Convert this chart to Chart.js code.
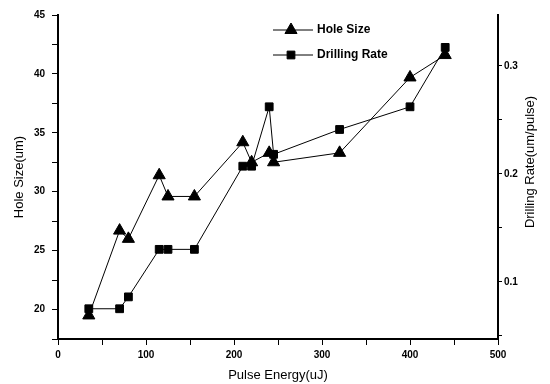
<!DOCTYPE html>
<html>
<head>
<meta charset="utf-8">
<script src="https://cdn.jsdelivr.net/npm/chart.js@4/dist/chart.umd.min.js"></script>
<style>
  html, body { margin: 0; padding: 0; background: #fff; }
  #wrap { width: 550px; height: 384px; }
</style>
</head>
<body>
<div id="wrap"><canvas id="drillChart" width="550" height="384"></canvas></div>
<script>
// pulse energy (uJ) at which both quantities were measured
const pulseEnergy = [35, 70, 80, 115, 125, 155, 210, 220, 240, 245, 320, 400, 440];
// hole size (um), left axis
const holeSize = [19.5, 26.7, 26.0, 31.4, 29.6, 29.6, 34.2, 32.5, 33.3, 32.5, 33.3, 39.7, 41.6];
// drilling rate (um/pulse), right axis
const drillingRate = [0.075, 0.075, 0.086, 0.13, 0.13, 0.13, 0.207, 0.207, 0.262, 0.218, 0.241, 0.262, 0.317];

const xTicks = [0, 50, 100, 150, 200, 250, 300, 350, 400, 450, 500];
const holeTicks = [17.5, 20, 22.5, 25, 27.5, 30, 32.5, 35, 37.5, 40, 42.5, 45];
const rateTicks = [0.05, 0.1, 0.15, 0.2, 0.25, 0.3];

const tickFont = { family: 'Liberation Sans', size: 10, weight: 'bold' };
const titleFont = { family: 'Liberation Sans', size: 13 };

function toPoints(ys) {
    return pulseEnergy.map((x, i) => ({ x: x, y: ys[i] }));
}

// legend drawn as line + marker like the original
const lineLegend = {
    id: 'lineLegend',
    afterDraw(chart) {
        const ctx = chart.ctx;
        ctx.save();
        chart.data.datasets.forEach((ds, i) => {
            const y = 30 + i * 25;
            ctx.strokeStyle = '#000';
            ctx.fillStyle = '#000';
            ctx.lineWidth = 1;
            ctx.beginPath();
            ctx.moveTo(273, y);
            ctx.lineTo(313, y);
            ctx.stroke();
            Chart.helpers.drawPoint(ctx, {
                pointStyle: ds.pointStyle,
                radius: ds.pointRadius,
                rotation: 0,
                borderWidth: 1
            }, 291, y);
            ctx.font = 'bold 12px "Liberation Sans"';
            ctx.textBaseline = 'middle';
            ctx.textAlign = 'left';
            ctx.fillText(ds.label, 317, y);
        });
        ctx.restore();
    }
};

// right axis title reads bottom-to-top in the original
const rightTitle = {
    id: 'rightTitle',
    afterDraw(chart) {
        const ctx = chart.ctx;
        ctx.save();
        ctx.translate(530, 162);
        ctx.rotate(-Math.PI / 2);
        ctx.font = '13px "Liberation Sans"';
        ctx.fillStyle = '#000';
        ctx.textAlign = 'center';
        ctx.textBaseline = 'middle';
        ctx.fillText('Drilling Rate(um/pulse)', 0, 0);
        ctx.restore();
    }
};

const ctx = document.getElementById('drillChart').getContext('2d');
new Chart(ctx, {
    type: 'scatter',
    data: {
        datasets: [{
            label: 'Hole Size',
            data: toPoints(holeSize),
            yAxisID: 'y',
            showLine: true,
            borderColor: '#000',
            backgroundColor: '#000',
            borderWidth: 1,
            pointStyle: 'triangle',
            pointRadius: 7,
            pointBorderWidth: 1
        }, {
            label: 'Drilling Rate',
            data: toPoints(drillingRate),
            yAxisID: 'y1',
            showLine: true,
            borderColor: '#000',
            backgroundColor: '#000',
            borderWidth: 1,
            pointStyle: 'rect',
            pointRadius: 5.5,
            pointBorderWidth: 1
        }]
    },
    options: {
        responsive: false,
        animation: false,
        layout: { padding: { top: 15, left: 0, right: 0, bottom: 0 } },
        plugins: {
            legend: { display: false },
            tooltip: { enabled: false }
        },
        scales: {
            x: {
                type: 'linear',
                min: 0,
                max: 500,
                afterBuildTicks: axis => { axis.ticks = xTicks.map(v => ({ value: v })); },
                afterFit: scale => { scale.height = 45; },
                border: { display: true, color: '#000', width: 2 },
                grid: { drawOnChartArea: false, color: '#000', tickLength: 6 },
                ticks: {
                    color: '#000',
                    font: tickFont,
                    padding: 4,
                    maxRotation: 0,
                    callback: v => (v % 100 === 0 ? v : '')
                },
                title: {
                    display: true,
                    text: 'Pulse Energy(uJ)',
                    color: '#000',
                    font: titleFont,
                    padding: { top: 0, bottom: 1 }
                }
            },
            y: {
                position: 'left',
                min: 17.5,
                max: 45,
                afterBuildTicks: axis => { axis.ticks = holeTicks.map(v => ({ value: v })); },
                afterFit: scale => { scale.width = 58; },
                border: { display: true, color: '#000', width: 2 },
                grid: { drawOnChartArea: false, color: '#000', tickLength: 6 },
                ticks: {
                    color: '#000',
                    font: tickFont,
                    padding: 7,
                    callback: v => (v % 5 === 0 ? v : '')
                },
                title: {
                    display: true,
                    text: 'Hole Size(um)',
                    color: '#000',
                    font: titleFont,
                    padding: { top: 12, bottom: 0 }
                }
            },
            y1: {
                position: 'right',
                min: 0.047,
                max: 0.347,
                afterBuildTicks: axis => { axis.ticks = rateTicks.map(v => ({ value: v })); },
                afterFit: scale => { scale.width = 52; },
                border: { display: true, color: '#000', width: 2 },
                grid: { drawOnChartArea: false, color: '#000', tickLength: 4 },
                ticks: {
                    color: '#000',
                    font: tickFont,
                    padding: 2,
                    callback: v => (Math.abs(v * 10 - Math.round(v * 10)) < 1e-6 ? v.toFixed(1) : '')
                },
                title: { display: false }
            }
        }
    },
    plugins: [lineLegend, rightTitle]
});
</script>
</body>
</html>
